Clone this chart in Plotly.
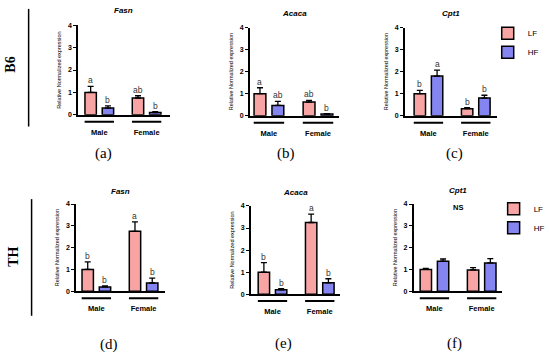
import plotly.graph_objects as go

W, H = 550, 358

# ---------------- data ----------------
sexes = ["Male", "Female"]
genes = ["Fasn", "Acaca", "Cpt1"]
strains = ["B6", "TH"]
panel_tags = ["(a)", "(b)", "(c)", "(d)", "(e)", "(f)"]
y_ticks = [0, 1, 2, 3, 4]

b6_lf_mean = [[1.00, 0.75], [1.00, 0.62], [1.00, 0.32]]
b6_lf_err = [[0.27, 0.10], [0.27, 0.08], [0.15, 0.05]]
b6_hf_mean = [[0.30, 0.10], [0.47, 0.08], [1.80, 0.80]]
b6_hf_err = [[0.10, 0.04], [0.18, 0.02], [0.27, 0.13]]
b6_lf_letters = [["a", "ab"], ["a", "ab"], ["b", "b"]]
b6_hf_letters = [["b", "b"], ["ab", "b"], ["a", "b"]]

th_lf_mean = [[1.00, 2.75], [1.00, 3.25], [1.00, 0.98]]
th_lf_err = [[0.35, 0.43], [0.43, 0.38], [0.05, 0.10]]
th_hf_mean = [[0.20, 0.38], [0.20, 0.52], [1.38, 1.30]]
th_hf_err = [[0.05, 0.22], [0.05, 0.18], [0.10, 0.20]]
th_lf_letters = [["b", "a"], ["b", "a"], ["", ""]]
th_hf_letters = [["b", "b"], ["b", "b"], ["", ""]]

# ---------------- layout config (pixels) ----------------
panels = [
    dict(xd=(79, 172), yd=(21.7, 113), xr=(-0.45, 1.49), lab=(105, 152), tt=7),
    dict(xd=(253, 343), yd=(24, 114), xr=(-0.39, 1.42), lab=(290, 152), tt=10),
    dict(xd=(410, 503), yd=(24, 114), xr=(-0.50, 1.44), lab=(460, 152), tt=10),
    dict(xd=(77, 167), yd=(204, 293), xr=(-0.43, 1.45), lab=(110, 347), tt=191),
    dict(xd=(254, 344), yd=(206, 296), xr=(-0.46, 1.42), lab=(287, 346), tt=192),
    dict(xd=(419, 508), yd=(204, 293), xr=(-0.44, 1.42), lab=(460, 346), tt=190),
]

LF_COLOR = "#F8A4A4"
HF_COLOR = "#8585F2"
SANS = "Liberation Sans, Arial, sans-serif"
SERIF = "Liberation Serif, Times New Roman, serif"
BAR_OFF = 0.1825

def px_x(x):
    return x / W

def px_y(y):
    return 1 - y / H

fig = go.Figure()
layout = dict(
    width=W, height=H,
    margin=dict(l=0, r=0, t=0, b=0),
    paper_bgcolor="white", plot_bgcolor="white",
    barmode="group", bargap=0.27, bargroupgap=0.34,
    showlegend=True,
    font=dict(family=SANS, color="black"),
)
annotations = []
shapes = []

datasets = [
    (b6_lf_mean, b6_lf_err, b6_hf_mean, b6_hf_err, b6_lf_letters, b6_hf_letters),
    (th_lf_mean, th_lf_err, th_hf_mean, th_hf_err, th_lf_letters, th_hf_letters),
]

for r, (lfm, lfe, hfm, hfe, lfl, hfl) in enumerate(datasets):
    for c, gene in enumerate(genes):
        i = r * 3 + c
        p = panels[i]
        sfx = "" if i == 0 else str(i + 1)
        xa, ya = "x" + sfx, "y" + sfx
        legend_name = None
        show = False
        if c == 2:
            show = True
            legend_name = "legend" if r == 0 else "legend2"
        for name, means, errs, color, letters, off in (
            ("LF", lfm[c], lfe[c], LF_COLOR, lfl[c], -BAR_OFF),
            ("HF", hfm[c], hfe[c], HF_COLOR, hfl[c], BAR_OFF),
        ):
            kw = dict(legend=legend_name) if legend_name else {}
            fig.add_trace(go.Bar(
                x=sexes, y=means, name=name, xaxis=xa, yaxis=ya,
                marker=dict(color=color, line=dict(color="black", width=1.5)),
                error_y=dict(type="data", array=errs, arrayminus=[0] * len(errs),
                             symmetric=False, color="black", thickness=1.3, width=3),
                showlegend=show, **kw,
            ))
            for k, s in enumerate(sexes):
                if letters[k]:
                    annotations.append(dict(
                        x=k + off, y=means[k] + errs[k], xref=xa, yref=ya,
                        text=letters[k], showarrow=False, xanchor="center",
                        yanchor="bottom", yshift=-1,
                        font=dict(size=8.5, color="#333333", family=SANS),
                    ))
        layout["xaxis" + sfx] = dict(
            domain=[px_x(p["xd"][0]), px_x(p["xd"][1])], anchor=ya,
            range=list(p["xr"]), type="category",
            showline=True, linecolor="black", linewidth=1.5,
            showgrid=False, zeroline=False, ticks="",
            tickfont=dict(size=7.5, family=SANS, color="black", weight="bold"),
            ticklabelstandoff=9,
            fixedrange=True,
        )
        layout["yaxis" + sfx] = dict(
            domain=[px_y(p["yd"][1]), px_y(p["yd"][0])], anchor=xa,
            range=[0, 4], tickvals=y_ticks,
            showline=True, linecolor="black", linewidth=1.5,
            showgrid=False, zeroline=False,
            ticks="outside", ticklen=3, tickwidth=1.3, tickcolor="black",
            tickfont=dict(size=7, family=SANS, color="black", weight="bold"),
            title=dict(text="Relative Normalized expression",
                       font=dict(size=5.5, family=SANS, color="black"), standoff=6),
            fixedrange=True,
        )
        ybot = p["yd"][1] + 7
        for k in range(len(sexes)):
            shapes.append(dict(type="line", xref=xa, yref="paper",
                               x0=k - 0.31, x1=k + 0.31,
                               y0=px_y(ybot), y1=px_y(ybot),
                               line=dict(color="black", width=2)))
        annotations.append(dict(
            x=0.5, xref=xa + " domain", y=px_y(p["tt"]), yref="paper",
            text="<b><i>%s</i></b>" % gene, showarrow=False,
            xanchor="center", yanchor="middle",
            font=dict(size=8, family=SANS, color="black"),
        ))
        annotations.append(dict(
            x=px_x(p["lab"][0]), y=px_y(p["lab"][1]), xref="paper", yref="paper",
            text=panel_tags[i], showarrow=False, xanchor="center", yanchor="middle",
            font=dict(size=15, family=SERIF, color="black"),
        ))

annotations.append(dict(x=0.5, xref="x6 domain", y=px_y(208), yref="paper",
                        text="<b>NS</b>", showarrow=False,
                        xanchor="center", yanchor="middle",
                        font=dict(size=7.5, family=SANS, color="black")))

annotations.append(dict(x=px_x(11), y=px_y(62), xref="paper", yref="paper",
                        text="<b>%s</b>" % strains[0], showarrow=False, textangle=-90,
                        xanchor="center", yanchor="middle",
                        font=dict(size=14, family=SERIF, color="black")))
annotations.append(dict(x=px_x(14), y=px_y(258), xref="paper", yref="paper",
                        text="<b>%s</b>" % strains[1], showarrow=False, textangle=-90,
                        xanchor="center", yanchor="middle",
                        font=dict(size=14, family=SERIF, color="black")))
shapes.append(dict(type="line", xref="paper", yref="paper", x0=px_x(29), x1=px_x(29),
                   y0=px_y(5), y1=px_y(125), line=dict(color="black", width=1.5)))
shapes.append(dict(type="line", xref="paper", yref="paper", x0=px_x(32), x1=px_x(32),
                   y0=px_y(199), y1=px_y(318), line=dict(color="black", width=1.5)))

legend_style = dict(font=dict(size=8, family=SANS, color="black"),
                    bgcolor="rgba(0,0,0,0)", borderwidth=0, tracegroupgap=0,
                    xanchor="left", yanchor="top", itemwidth=30)
layout["legend"] = dict(x=px_x(494), y=px_y(15), **legend_style)
layout["legend2"] = dict(x=px_x(500), y=px_y(194), **legend_style)
layout["annotations"] = annotations
layout["shapes"] = shapes

fig.update_layout(**layout)
fig.write_html("out.html", config={"displayModeBar": False},
               post_script="document.body.style.margin='0px';")
